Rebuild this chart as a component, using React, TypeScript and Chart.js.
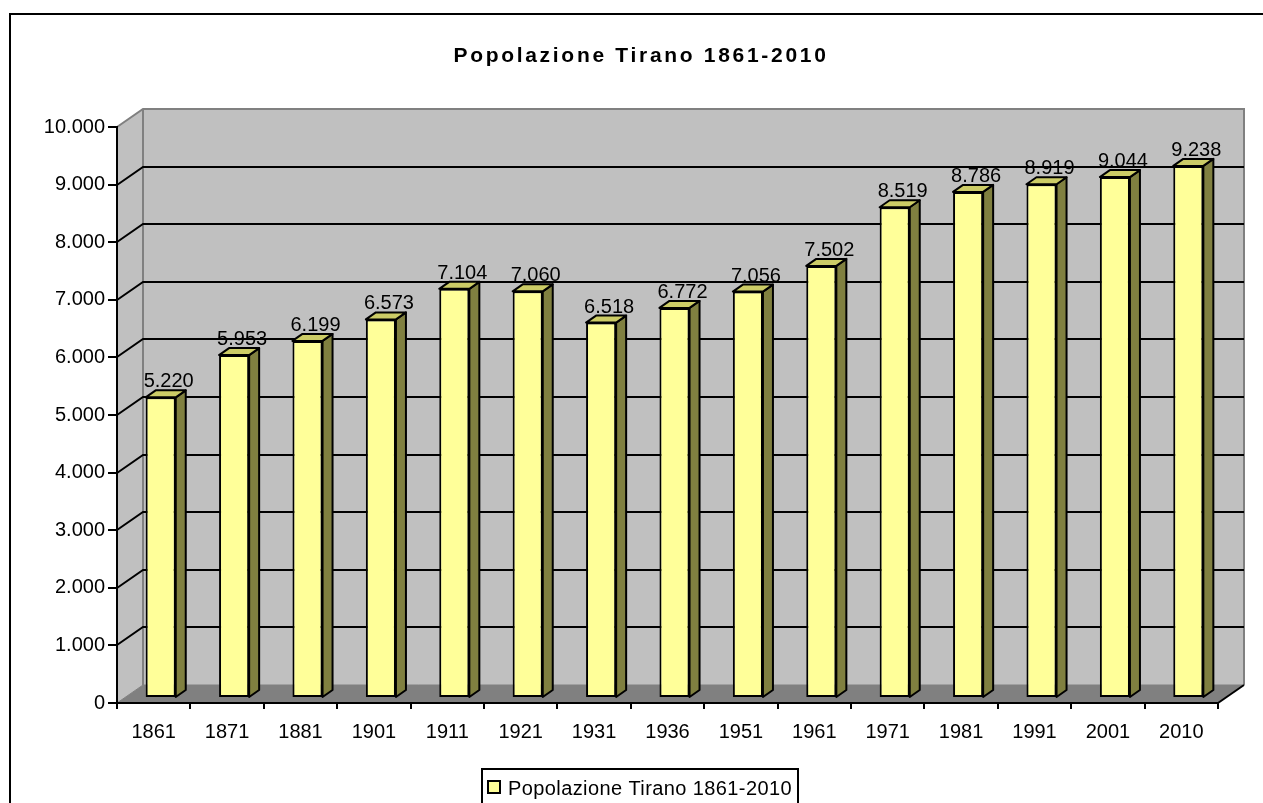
import React, { useEffect, useRef } from "react";
import { Chart, registerables } from "chart.js";

Chart.register(...registerables);

// ---- data ----
const years: string[] = [
  "1861", "1871", "1881", "1901", "1911", "1921", "1931", "1936",
  "1951", "1961", "1971", "1981", "1991", "2001", "2010",
];
const population: number[] = [
  5220, 5953, 6199, 6573, 7104, 7060, 6518, 6772,
  7056, 7502, 8519, 8786, 8919, 9044, 9238,
];
const yMin = 0;
const yMax = 10000;
const yStep = 1000;
const seriesLabel = "Popolazione Tirano 1861-2010";
const chartTitle = "Popolazione Tirano 1861-2010";

// ---- style ----
const FONT = '"Liberation Sans", Arial, Helvetica, sans-serif';
const WALL_DX = 26;
const WALL_DY = -18;
const BAR_SHIFT_X = 7;
const BAR_SHIFT_Y = -5;
const BAR_DX = 10;
const BAR_DY = -7;

function fmt(n: number): string {
  return String(Math.round(n)).replace(/\B(?=(\d{3})+(?!\d))/g, ".");
}

const scenePlugin = {
  id: "scene3d",
  beforeDraw(chart: any) {
    const ctx: CanvasRenderingContext2D = chart.ctx;
    const a = chart.chartArea;
    const ys = chart.scales.y;
    const L = a.left, R = a.right, T = a.top, B = a.bottom;
    ctx.save();
    ctx.fillStyle = "#ffffff";
    ctx.fillRect(0, 0, chart.width, chart.height);

    // outer frame
    ctx.strokeStyle = "#000";
    ctx.lineWidth = 2;
    ctx.strokeRect(10, 14, chart.width + 40, chart.height + 40);

    // title
    ctx.save();
    (ctx as any).letterSpacing = "2.7px";
    ctx.font = `bold 21px ${FONT}`;
    ctx.fillStyle = "#000";
    ctx.textAlign = "center";
    ctx.textBaseline = "alphabetic";
    ctx.fillText(chartTitle, 641, 62);
    ctx.restore();

    // back wall
    ctx.fillStyle = "#C0C0C0";
    ctx.fillRect(L + WALL_DX, T + WALL_DY, R - L, B - T);
    // side wall
    ctx.beginPath();
    ctx.moveTo(L, T);
    ctx.lineTo(L + WALL_DX, T + WALL_DY);
    ctx.lineTo(L + WALL_DX, B + WALL_DY);
    ctx.lineTo(L, B);
    ctx.closePath();
    ctx.fill();
    // floor
    ctx.fillStyle = "#808080";
    ctx.beginPath();
    ctx.moveTo(L, B);
    ctx.lineTo(L + WALL_DX, B + WALL_DY);
    ctx.lineTo(R + WALL_DX, B + WALL_DY);
    ctx.lineTo(R, B);
    ctx.closePath();
    ctx.fill();

    // wall borders (gray)
    ctx.strokeStyle = "#808080";
    ctx.lineWidth = 2;
    ctx.beginPath();
    ctx.moveTo(L, T);
    ctx.lineTo(L + WALL_DX, T + WALL_DY);
    ctx.lineTo(R + WALL_DX, T + WALL_DY);
    ctx.lineTo(R + WALL_DX, B + WALL_DY);
    ctx.moveTo(L + WALL_DX, T + WALL_DY);
    ctx.lineTo(L + WALL_DX, B + WALL_DY);
    ctx.stroke();
    ctx.lineWidth = 1;
    ctx.beginPath();
    ctx.moveTo(L, B);
    ctx.lineTo(L + WALL_DX, B + WALL_DY);
    ctx.lineTo(R + WALL_DX, B + WALL_DY);
    ctx.stroke();

    // floor right edge (black)
    ctx.strokeStyle = "#000";
    ctx.lineWidth = 2;
    ctx.beginPath();
    ctx.moveTo(R, B);
    ctx.lineTo(R + WALL_DX, B + WALL_DY);
    ctx.stroke();

    // gridlines on side wall and back wall
    ctx.strokeStyle = "#000";
    ctx.lineWidth = 2;
    for (let v = yMin + yStep; v < yMax; v += yStep) {
      const py = Math.round(ys.getPixelForValue(v));
      ctx.beginPath();
      ctx.moveTo(L, py);
      ctx.lineTo(L + WALL_DX, py + WALL_DY);
      ctx.lineTo(R + WALL_DX, py + WALL_DY);
      ctx.stroke();
    }

    // legend
    ctx.strokeStyle = "#000";
    ctx.lineWidth = 2;
    ctx.strokeRect(482, 769, 316, 60);
    ctx.fillStyle = "#FFFF99";
    ctx.fillRect(488, 781, 12, 12);
    ctx.strokeRect(488, 781, 12, 12);
    ctx.save();
    (ctx as any).letterSpacing = "0.4px";
    ctx.font = `20px ${FONT}`;
    ctx.fillStyle = "#000";
    ctx.textAlign = "left";
    ctx.textBaseline = "alphabetic";
    ctx.fillText(seriesLabel, 508, 795);
    ctx.restore();

    ctx.restore();
  },
  beforeDatasetsDraw(chart: any) {
    chart.ctx.save();
    chart.ctx.translate(BAR_SHIFT_X, BAR_SHIFT_Y);
  },
  afterDatasetsDraw(chart: any) {
    const ctx: CanvasRenderingContext2D = chart.ctx;
    ctx.restore();
    const meta = chart.getDatasetMeta(0);
    const data = chart.data.datasets[0].data as number[];
    ctx.save();
    ctx.lineWidth = 2;
    ctx.strokeStyle = "#000";
    ctx.lineJoin = "round";
    meta.data.forEach((el: any, i: number) => {
      const p = el.getProps(["x", "y", "width", "base"], true);
      const left = p.x - p.width / 2 + BAR_SHIFT_X;
      const right = p.x + p.width / 2 + BAR_SHIFT_X;
      const top = p.y + BAR_SHIFT_Y;
      const bottom = p.base + BAR_SHIFT_Y;
      // side face
      ctx.fillStyle = "#808040";
      ctx.beginPath();
      ctx.moveTo(right, top);
      ctx.lineTo(right + BAR_DX, top + BAR_DY);
      ctx.lineTo(right + BAR_DX, bottom + BAR_DY);
      ctx.lineTo(right, bottom);
      ctx.closePath();
      ctx.fill();
      ctx.stroke();
      // top face
      ctx.fillStyle = "#CCCC66";
      ctx.beginPath();
      ctx.moveTo(left, top);
      ctx.lineTo(left + BAR_DX, top + BAR_DY);
      ctx.lineTo(right + BAR_DX, top + BAR_DY);
      ctx.lineTo(right, top);
      ctx.closePath();
      ctx.fill();
      ctx.stroke();
      // value label
      ctx.fillStyle = "#000";
      ctx.font = `20px ${FONT}`;
      ctx.textAlign = "center";
      ctx.textBaseline = "alphabetic";
      ctx.fillText(fmt(data[i]), (left + right) / 2 + 8, top + BAR_DY - 3);
    });
    ctx.restore();
  },
};

export default function App() {
  const ref = useRef<HTMLCanvasElement | null>(null);
  useEffect(() => {
    if (!ref.current) return;
    const chart = new Chart(ref.current, {
      type: "bar",
      data: {
        labels: years,
        datasets: [
          {
            label: seriesLabel,
            data: population,
            backgroundColor: "#FFFF99",
            borderColor: "#000",
            borderWidth: 2,
            borderSkipped: false,
            barPercentage: 0.41,
            categoryPercentage: 1,
          },
        ],
      },
      options: {
        responsive: false,
        animation: false,
        devicePixelRatio: 1,
        layout: { padding: { left: 0, top: 127, right: 45, bottom: 0 } },
        plugins: {
          legend: { display: false },
          title: { display: false },
          tooltip: { enabled: false },
        },
        scales: {
          x: {
            grid: {
              offset: true,
              drawOnChartArea: false,
              drawTicks: true,
              tickLength: 6,
              color: "#000",
              lineWidth: 2,
            },
            border: { display: true, color: "#000", width: 2 },
            ticks: {
              color: "#000",
              font: { family: FONT, size: 20 },
              padding: 11,
              autoSkip: false,
              maxRotation: 0,
            },
            afterFit(s: any) {
              s.height = 100;
            },
          },
          y: {
            min: yMin,
            max: yMax,
            grid: {
              drawOnChartArea: false,
              drawTicks: true,
              tickLength: 9,
              color: "#000",
              lineWidth: 2,
            },
            border: { display: true, color: "#000", width: 2 },
            ticks: {
              stepSize: yStep,
              color: "#000",
              font: { family: FONT, size: 20 },
              padding: 3,
              callback: (v: any) => fmt(Number(v)),
            },
            afterFit(s: any) {
              s.width = 117;
            },
          },
        },
      },
      plugins: [scenePlugin],
    });
    return () => chart.destroy();
  }, []);
  return (
    <div style={{ position: "fixed", left: 0, top: 0, width: 1263, height: 803 }}>
      <canvas ref={ref} width={1263} height={803} style={{ display: "block" }} />
    </div>
  );
}
